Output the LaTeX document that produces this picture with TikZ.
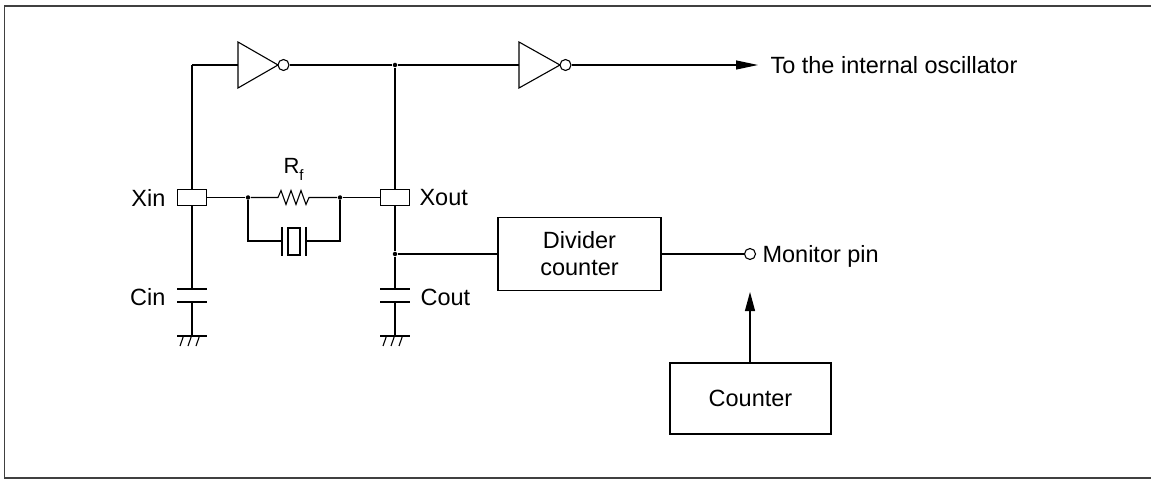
\documentclass[tikz,border=0pt]{standalone}
\usepackage{fontspec}
\setmainfont{Liberation Sans}
\usetikzlibrary{arrows.meta}
\begin{document}
\begin{tikzpicture}[x=1pt,y=-1pt,line width=1.1pt,
  pin/.style={draw,fill=white,minimum width=29pt,minimum height=16pt,inner sep=0pt},
  block/.style={draw,line width=1.2pt,inner sep=0pt,align=center,font=\fontsize{23.5}{27}\selectfont},
  lbl/.style={inner sep=0pt,font=\fontsize{23.5}{27}\selectfont},
  dot/.style={circle,fill,inner sep=0pt,minimum size=4.5pt},
  bubble/.style={circle,draw,fill=white,inner sep=0pt,minimum size=11pt},
  plate/.style={line width=1.7pt},
  frame/.style={line width=1.5pt,black!75}]
\useasboundingbox (0,0) rectangle (1151,481);
\draw[frame] (1151,6) -- (4.5,6) -- (4.5,478) -- (1151,478);
% inverters
\draw (238,42) -- (278,65) -- (238,88) -- cycle;
\node[bubble] (b1) at (283.5,65) {};
\draw (519,42) -- (560,65) -- (519,88) -- cycle;
\node[bubble] (b2) at (565.5,65) {};
\coordinate (i1in) at (238,65);
\coordinate (i2in) at (519,65);
\coordinate (tl) at (192,65);
\node[dot] (jt) at (395,65) {};
\coordinate (osctip) at (758,65);
\draw (tl) -- (i1in);
\draw (b1) -- (jt) -- (i2in);
\draw[-{Triangle[length=22pt,width=9pt]}] (b2) -- (osctip);
\node[lbl,anchor=base west] (osc) at (770,73.5) {To the internal oscillator};
% pins
\node[pin] (xin) at (192,197.5) {};
\node[pin] (xout) at (395,197.5) {};
\node[lbl,anchor=east] (xinl) at (166,197.5) {Xin};
\node[lbl,anchor=west] (xoutl) at (419,197.5) {Xout};
\draw (tl) -- (xin.north);
\draw (jt) -- (xout.north);
% resistor
\node[dot] (ja) at (248,197.5) {};
\node[dot] (jb) at (340,197.5) {};
\draw (xin.east) -- (ja);
\draw (jb) -- (xout.west);
\draw (ja) -- (278,197.5) -- (281,190.5) -- (286,204.5) -- (291,190.5) -- (296,204.5) -- (301,190.5) -- (306,204.5) -- (309,197.5) -- (jb);
\node[inner sep=0pt,anchor=base west,font=\fontsize{22}{24}\selectfont] (rf) at (283,174) {R\raisebox{-0.3em}{\fontsize{15}{15}\selectfont f}};
% crystal
\coordinate (ca) at (248,241);
\coordinate (cb) at (340,241);
\draw (ja) -- (ca) -- (282,241);
\draw (306,241) -- (cb) -- (jb);
\draw[plate] (282,227) -- (282,256);
\draw[plate] (306,227) -- (306,256);
\draw (288,228) rectangle (300,255);
% capacitors and grounds
\coordinate (cinT) at (192,289);
\coordinate (cinB) at (192,302);
\coordinate (gin) at (192,336);
\draw (xin.south) -- (cinT);
\draw (177,289) -- (207,289);
\draw (177,302) -- (207,302);
\draw (cinB) -- (gin);
\draw (177,336) -- (207,336);
\foreach \x in {180,188,196} \draw (\x+3.5,336) -- (\x,346);
\node[lbl,anchor=east] (cinl) at (166,297) {Cin};
\node[dot] (jd) at (395,254) {};
\coordinate (coutT) at (395,289);
\coordinate (coutB) at (395,302);
\coordinate (gout) at (395,336);
\draw (xout.south) -- (jd) -- (coutT);
\draw (380,289) -- (410,289);
\draw (380,302) -- (410,302);
\draw (coutB) -- (gout);
\draw (380,336) -- (410,336);
\foreach \x in {383,391,399} \draw (\x+3.5,336) -- (\x,346);
\node[lbl,anchor=west] (coutl) at (420,297) {Cout};
% divider and monitor
\node[block,minimum width=163pt,minimum height=73pt] (div) at (579.5,254) {Divider\\counter};
\draw (jd) -- (div.west);
\node[bubble] (mon) at (750,254) {};
\draw (div.east) -- (mon);
\node[lbl,anchor=base west] (monl) at (762,262.5) {Monitor pin};
\node[block,minimum width=161pt,minimum height=71pt] (cnt) at (750.5,398.5) {Counter};
\coordinate (montip) at (750,292);
\draw[-{Triangle[length=19pt,width=10pt]}] (cnt.north -| montip) -- (montip);
\end{tikzpicture}
\end{document}
